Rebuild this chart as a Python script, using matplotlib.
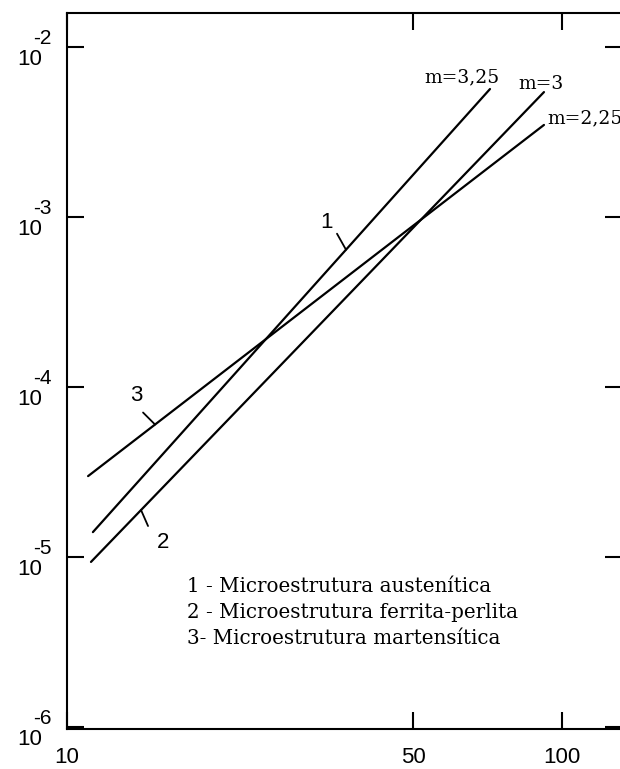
import matplotlib
matplotlib.use("Agg")
import matplotlib.pyplot as plt
import numpy as np

# Crack growth lines: endpoints (log-log) for each microstructure
curve_ids = ["1", "2", "3"]
x_start = [11.28, 11.18, 11.03]
y_start = [1.40e-5, 9.35e-6, 2.99e-5]
x_end = [71.5, 91.9, 91.9]
y_end = [5.66e-3, 5.43e-3, 3.48e-3]

# Slope labels at the upper ends
slope_text = ["m=3,25", "m=3", "m=2,25"]
slope_x = [52.8, 81.5, 93.3]
slope_y = [6.22e-3, 5.66e-3, 3.57e-3]

# Curve number labels and where their leaders touch the lines
num_x = [33.4, 15.6, 13.8]
num_y = [9.22e-4, 1.22e-5, 8.97e-5]
leader_x = [36.6, 14.11, 15.06]
leader_off = [(-9, 16), (7, -16), (-12, 12)]

legend_lines = ["1 - Microestrutura austenítica",
                "2 - Microestrutura ferrita-perlita",
                "3- Microestrutura martensítica"]

xticks = [10, 50, 100]
xtick_labels = ["10", "50", "100"]
yexp = [-2, -3, -4, -5, -6]

fig = plt.figure(figsize=(6.2, 7.69), dpi=100)
ax = fig.add_axes([67 / 620, 1 - 729 / 769, 555 / 620, 716 / 769])
ax.set_xscale("log")
ax.set_yscale("log")
ax.set_xlim(10, 132.1)
ax.set_ylim(10 ** -6.012, 10 ** -1.8)

for x0, y0, x1, y1 in zip(x_start, y_start, x_end, y_end):
    ax.plot([x0, x1], [y0, y1], color="black", lw=1.6, solid_capstyle="round")


def on_line(i, x):
    # log-log interpolation along line i
    lx0, lx1 = np.log10(x_start[i]), np.log10(x_end[i])
    ly0, ly1 = np.log10(y_start[i]), np.log10(y_end[i])
    t = (np.log10(x) - lx0) / (lx1 - lx0)
    return 10 ** (ly0 + t * (ly1 - ly0))


for i, lab in enumerate(curve_ids):
    ax.text(num_x[i], num_y[i], lab, fontsize=16, family="Liberation Sans",
            ha="center", va="center")
    px = leader_x[i]
    ax.annotate("", xy=(px, on_line(i, px)), xytext=leader_off[i],
                textcoords="offset pixels",
                arrowprops=dict(arrowstyle="-", color="black", lw=1.3,
                                shrinkA=0, shrinkB=0))

for t, x, y in zip(slope_text, slope_x, slope_y):
    ax.text(x, y, t, fontsize=13.5, family="DejaVu Serif", ha="left",
            va="baseline", clip_on=False)

for k, line in enumerate(legend_lines):
    ax.text(0.216, 0.191 - 0.0363 * k, line, transform=ax.transAxes,
            fontsize=14.3, family="DejaVu Serif", ha="left", va="baseline")

# axes frame and ticks
for s in ax.spines.values():
    s.set_linewidth(1.5)
ax.minorticks_off()
ax.set_xticks(xticks)
ax.set_xticklabels(xtick_labels, family="Liberation Sans", fontsize=16)
ax.set_yticks([10.0 ** e for e in yexp])
ax.set_yticklabels([])
ax.tick_params(which="both", direction="in", length=12, width=1.5,
               top=True, right=True)
ax.tick_params(axis="x", pad=13)

# y labels written as "10" with a raised exponent
for e in yexp:
    ax.annotate("10", xy=(0, 10.0 ** e), xycoords=("axes fraction", "data"),
                xytext=(-25, -2), textcoords="offset pixels",
                ha="right", va="top", fontsize=16, family="Liberation Sans")
    ax.annotate(str(e), xy=(0, 10.0 ** e), xycoords=("axes fraction", "data"),
                xytext=(-34, 3), textcoords="offset pixels",
                ha="left", va="baseline", fontsize=15, family="Liberation Sans")

fig.savefig("out.png", dpi=100)
